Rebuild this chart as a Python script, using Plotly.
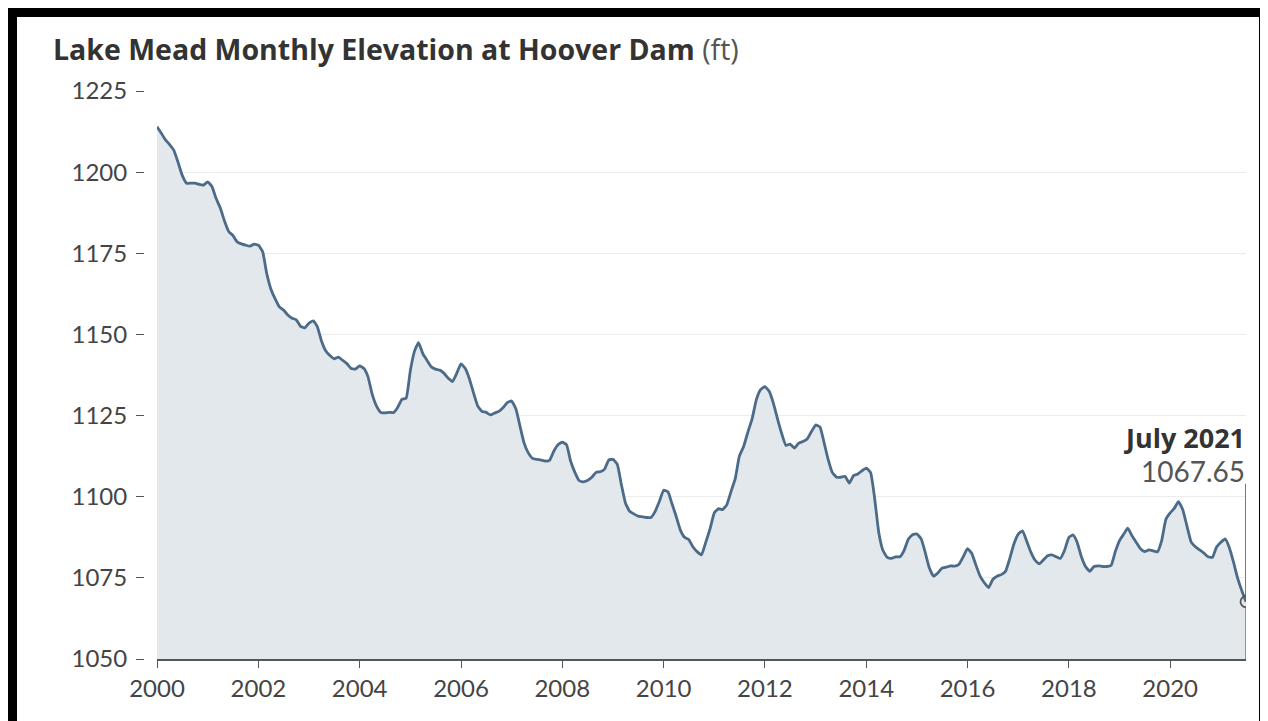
import plotly.graph_objects as go
import pandas as pd

# Monthly elevation (ft), Jan 2000 .. Jul 2021
elev_2000 = [1214, 1212, 1210, 1208.5, 1206.8, 1203, 1199, 1196.6, 1196.6, 1196.6, 1196.2, 1196]
elev_2001 = [1197, 1195.5, 1192, 1189, 1185, 1181.7, 1180.5, 1178.5, 1177.9, 1177.5, 1177.2, 1177.8]
elev_2002 = [1177.5, 1175.5, 1169, 1164, 1161, 1158.5, 1157.5, 1156, 1155, 1154.5, 1152.5, 1152]
elev_2003 = [1153.5, 1154.2, 1152.5, 1148, 1145, 1143.5, 1142.5, 1143, 1142, 1141, 1139.5, 1139.3]
elev_2004 = [1140.3, 1139.5, 1137, 1131.5, 1128, 1126, 1125.8, 1126, 1125.9, 1127.5, 1130, 1130.3]
elev_2005 = [1139, 1145, 1147.5, 1144, 1142, 1140, 1139.3, 1139, 1138, 1136.5, 1135.5, 1138]
elev_2006 = [1140.9, 1139.5, 1136.5, 1132, 1128, 1126.3, 1126, 1125.2, 1125.8, 1126.3, 1127.5, 1129]
elev_2007 = [1129.5, 1127, 1122, 1116.5, 1113.5, 1111.8, 1111.5, 1111.3, 1111, 1111.2, 1114, 1116]
elev_2008 = [1116.8, 1116, 1111, 1107.5, 1105, 1104.6, 1105, 1106, 1107.5, 1107.7, 1108.5, 1111.3]
elev_2009 = [1111.5, 1110, 1104, 1098, 1095.5, 1094.7, 1094, 1093.8, 1093.6, 1093.6, 1095.5, 1098.5]
elev_2010 = [1102, 1101.5, 1098, 1094, 1089.8, 1087.5, 1086.8, 1084.5, 1083, 1082.1, 1086, 1090]
elev_2011 = [1095, 1096.3, 1096, 1097.5, 1101.5, 1105.5, 1112.5, 1115.5, 1120, 1124, 1130, 1133]
elev_2012 = [1133.9, 1132.5, 1129, 1124, 1119.5, 1115.8, 1116.2, 1115, 1116.5, 1117, 1117.8, 1120]
elev_2013 = [1122.1, 1121.5, 1117, 1111.5, 1107.5, 1106, 1106, 1106.3, 1104.2, 1106.5, 1107, 1108]
elev_2014 = [1108.8, 1107.5, 1100, 1089, 1083.5, 1081.3, 1081, 1081.5, 1081.5, 1083.5, 1087, 1088.3]
elev_2015 = [1088.5, 1087, 1083, 1078, 1075.5, 1076.5, 1078, 1078.3, 1078.7, 1078.6, 1079.2, 1081.5]
elev_2016 = [1084, 1082.5, 1079, 1075.5, 1073.5, 1072, 1074.5, 1075.5, 1076, 1077, 1081, 1085.5]
elev_2017 = [1088.5, 1089.5, 1086.5, 1083, 1080.5, 1079.3, 1080.5, 1081.8, 1082.1, 1081.5, 1081, 1083.5]
elev_2018 = [1087.5, 1088.2, 1086, 1081.5, 1078.5, 1077, 1078.5, 1078.7, 1078.5, 1078.5, 1078.8, 1083]
elev_2019 = [1086.5, 1088.5, 1090.3, 1088, 1086, 1084, 1083.1, 1083.6, 1083.3, 1083, 1086.5, 1093]
elev_2020 = [1095, 1096.5, 1098.5, 1096, 1091, 1086, 1084.6, 1083.6, 1082.6, 1081.5, 1081.3, 1084.5]
elev_2021 = [1086, 1087, 1084.5, 1080, 1075, 1071, 1067.65]

elevation = (elev_2000 + elev_2001 + elev_2002 + elev_2003 + elev_2004 + elev_2005 +
             elev_2006 + elev_2007 + elev_2008 + elev_2009 + elev_2010 + elev_2011 +
             elev_2012 + elev_2013 + elev_2014 + elev_2015 + elev_2016 + elev_2017 +
             elev_2018 + elev_2019 + elev_2020 + elev_2021)
dates = pd.date_range("2000-01-01", periods=len(elevation), freq="MS")

y_ticks = [1050, 1075, 1100, 1125, 1150, 1175, 1200, 1225]
x_tick_years = list(range(2000, 2021, 2))
last_label = "July 2021"
last_value_text = "1067.65"

LINE = "#4b6b88"
FILL = "#e3e8ed"
TEXT = "#333333"

W, H = 1268, 721
OFF = 8  # page body offset
# plot area in screen pixels: left 157, right 1246, top 91, bottom 659
AX = 144 - OFF          # y-axis (tick) position in figure px
PL = 157 - OFF
PR = 1246 - OFF
PT = 91 - OFF
PB = 659 - OFF
L, R, T, B = AX, W - PR, PT, H - PB
plot_w = PR - AX
plot_h = PB - PT
d = (PL - AX) / plot_w


def px_x(p):
    return (p - OFF - AX) / plot_w


def px_y(p):
    return (PB - (p - OFF)) / plot_h


fig = go.Figure()
fig.add_trace(go.Scatter(
    x=dates, y=elevation, mode="lines",
    line=dict(color=LINE, width=2.8, shape="spline", smoothing=0.4),
    fill="tozeroy", fillcolor=FILL, hoverinfo="x+y", showlegend=False,
))

last_x = dates[-1]
last_y = elevation[-1]

fig.add_trace(go.Scatter(
    x=[last_x], y=[last_y], mode="markers",
    marker=dict(size=11, color="rgba(0,0,0,0)", line=dict(color="#555555", width=1.8)),
    showlegend=False, hoverinfo="skip",
))

shapes = [
    dict(type="line", xref="x", yref="y", x0=last_x, x1=last_x, y0=last_y + 1.7, y1=1104,
         line=dict(color="#444444", width=1.4)),
    dict(type="line", xref="x", yref="y", x0=last_x, x1=last_x, y0=1050, y1=last_y - 1.7,
         line=dict(color=LINE, width=1.3)),
    # black frame
    dict(type="rect", xref="paper", yref="paper", x0=px_x(8), x1=px_x(1290), y0=px_y(17), y1=px_y(8),
         fillcolor="black", line=dict(width=0), layer="above"),
    dict(type="rect", xref="paper", yref="paper", x0=px_x(8), x1=px_x(17), y0=px_y(740), y1=px_y(8),
         fillcolor="black", line=dict(width=0), layer="above"),
    dict(type="rect", xref="paper", yref="paper", x0=px_x(1259), x1=px_x(1290), y0=px_y(740), y1=px_y(8),
         fillcolor="black", line=dict(width=0), layer="above"),
]

annotations = [
    dict(xref="paper", yref="paper", x=px_x(1247), y=px_y(437), xanchor="right", yanchor="middle",
         text="<b>" + last_label + "</b>", showarrow=False,
         font=dict(family="Open Sans", size=27, color=TEXT)),
    dict(xref="paper", yref="paper", x=px_x(1247), y=px_y(471), xanchor="right", yanchor="middle",
         text=last_value_text, showarrow=False,
         font=dict(family="Lato", size=28, color="#555555")),
]

fig.update_layout(
    width=W, height=H,
    margin=dict(l=L, r=R, t=T, b=B, pad=0),
    paper_bgcolor="white", plot_bgcolor="white",
    font=dict(family="Lato", color="#444444", size=24),
    title=dict(
        text="<b>Lake Mead Monthly Elevation at Hoover Dam</b> <span style='color:#555555'>(ft)</span>",
        xref="container", yref="container", x=(53 - OFF) / W, y=1 - (50 - OFF) / H,
        xanchor="left", yanchor="middle",
        font=dict(family="Open Sans", size=28.5, color=TEXT),
    ),
    xaxis=dict(
        type="date", domain=[d, 1],
        range=[dates[0], dates[-1]],
        tickvals=[pd.Timestamp(year=y, month=1, day=1) for y in x_tick_years],
        ticktext=[str(y) for y in x_tick_years],
        ticks="outside", ticklen=7, tickwidth=1.3, tickcolor="#555555",
        showline=True, linecolor="#555555", linewidth=1.8,
        showgrid=False, zeroline=False,
        tickfont=dict(family="Lato", size=24, color="#444444"),
    ),
    yaxis=dict(
        range=[1050, 1225], anchor="free", position=0,
        tickvals=y_ticks, ticktext=[str(v) for v in y_ticks],
        ticks="outside", ticklen=8, tickwidth=1.3, tickcolor="#555555",
        showline=False, showgrid=True, gridcolor="#ececec", gridwidth=1.2,
        zeroline=False, ticklabelstandoff=4,
        tickfont=dict(family="Lato", size=24, color="#444444"),
    ),
    shapes=shapes, annotations=annotations,
)

fig.write_html("out.html")
